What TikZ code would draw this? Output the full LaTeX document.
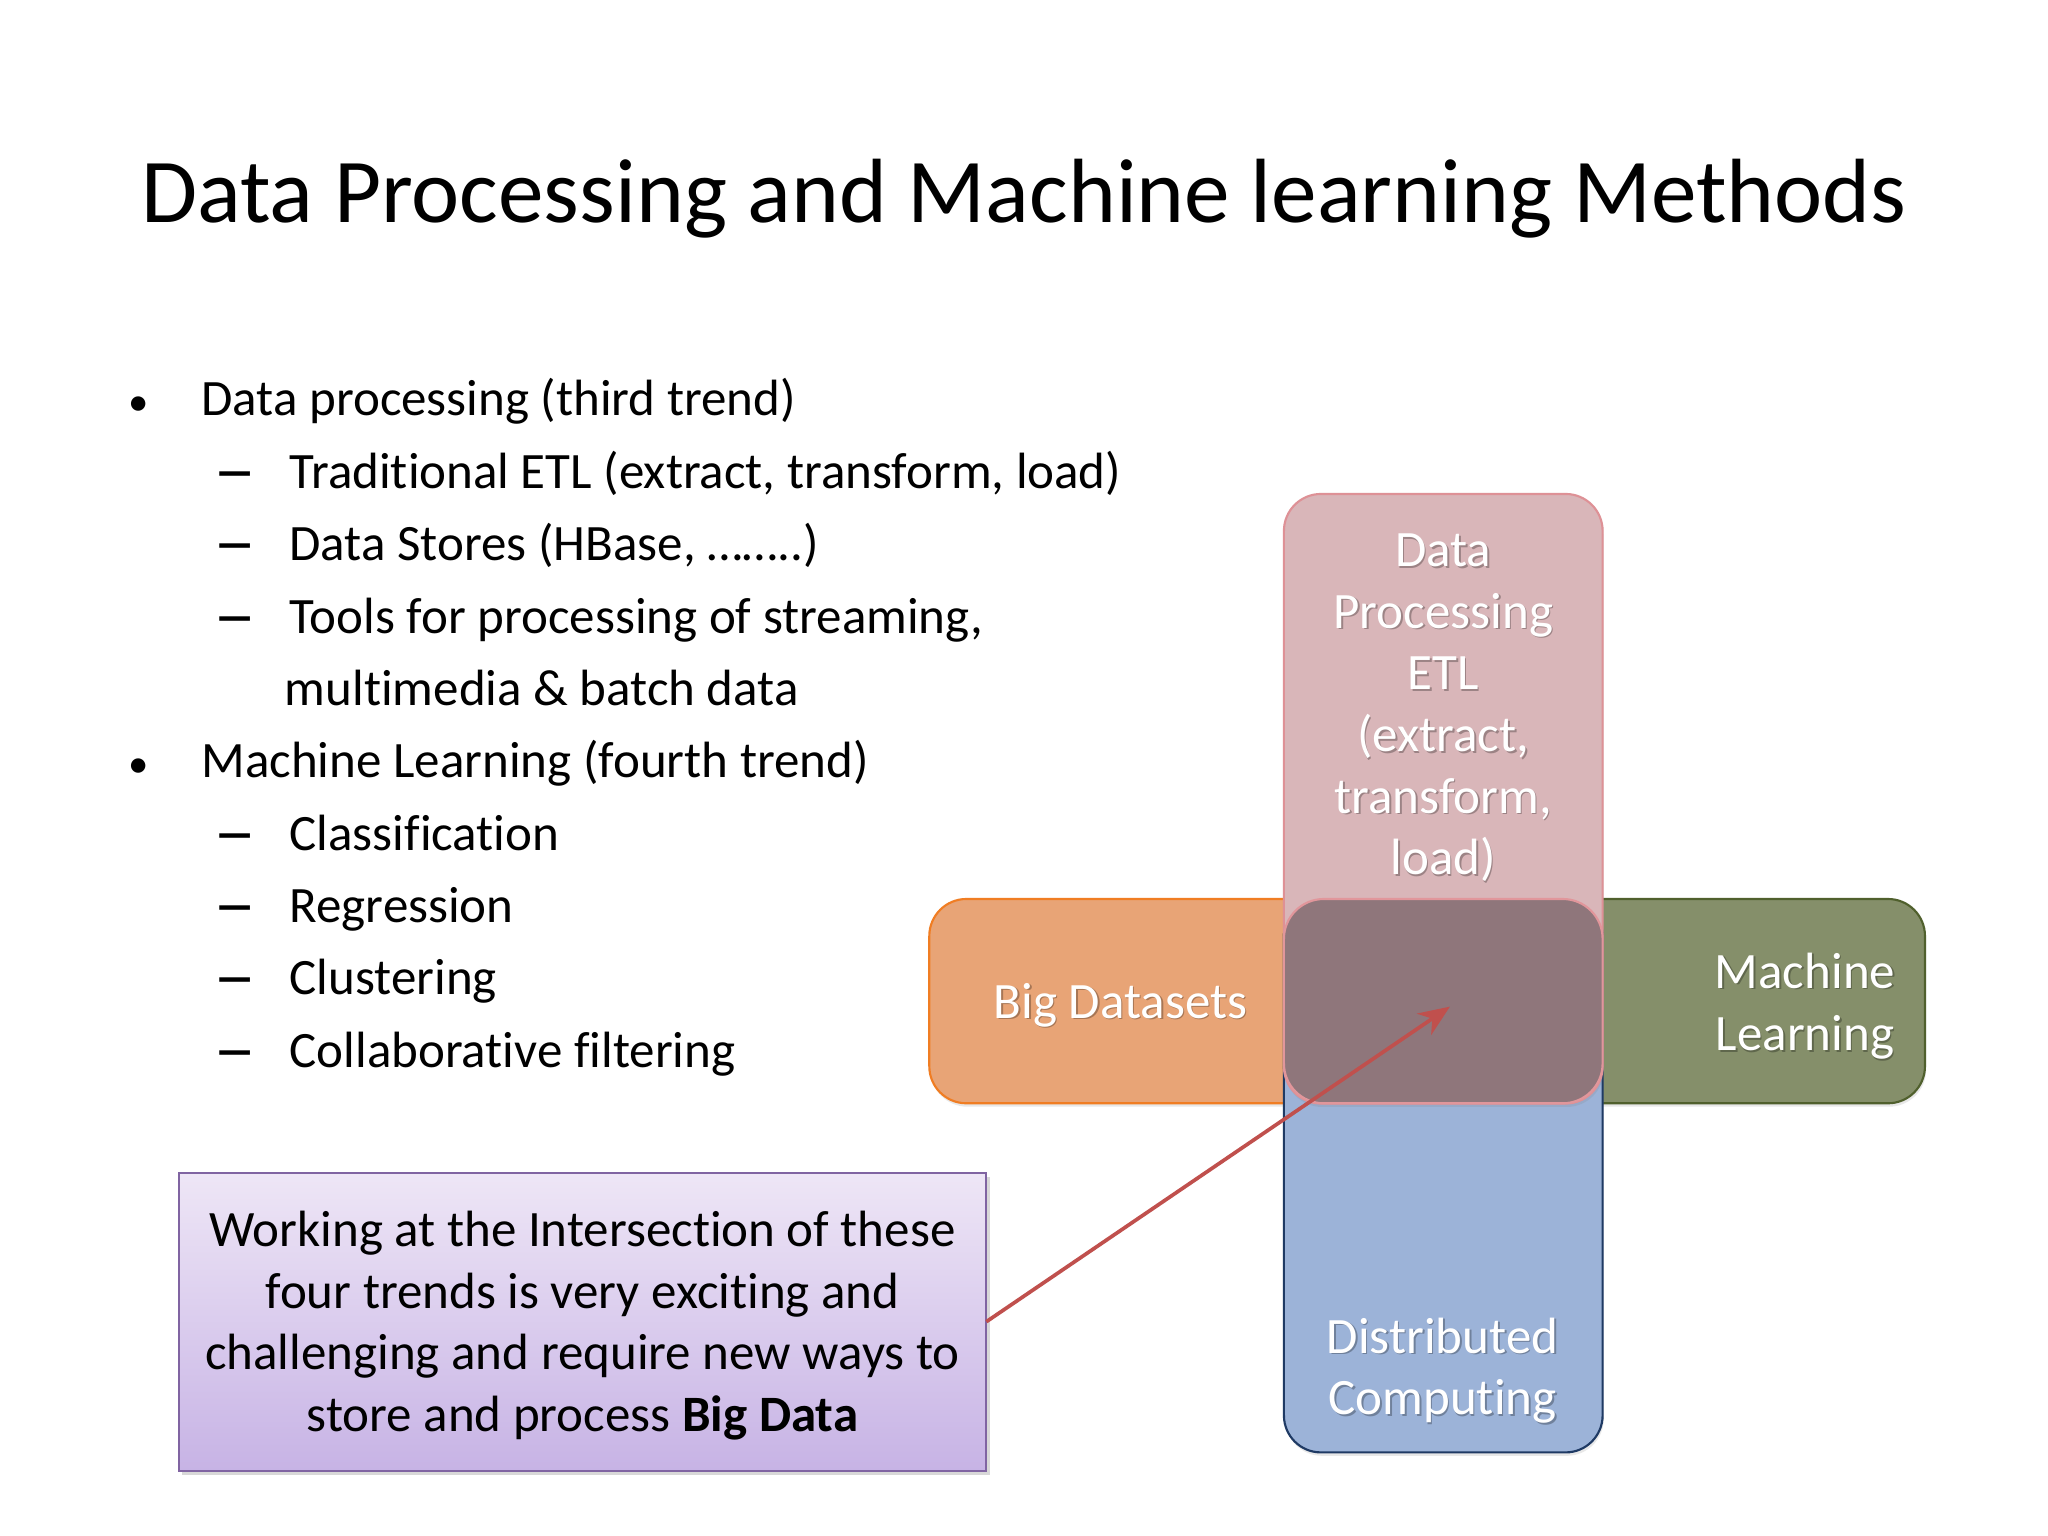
\documentclass[tikz,border=0pt]{standalone}
\usepackage{fontspec}
\usepackage{graphicx}
\setmainfont{Carlito}[Ligatures={NoCommon}]
\usetikzlibrary{arrows.meta,shadows}
\newlength\U \setlength\U{0.45918bp}
\definecolor{orF}{RGB}{232,164,118}
\definecolor{orD}{RGB}{240,125,35}
\definecolor{grF}{RGB}{133,143,106}
\definecolor{grD}{RGB}{80,96,45}
\definecolor{blF}{RGB}{156,179,216}
\definecolor{blD}{RGB}{31,58,100}
\definecolor{pkF}{RGB}{217,182,185}
\definecolor{pkD}{RGB}{222,145,150}
\definecolor{ceF}{RGB}{143,118,123}
\definecolor{ceD}{RGB}{225,150,155}
\definecolor{nbT}{RGB}{238,230,246}
\definecolor{nbB}{RGB}{199,179,229}
\definecolor{nbD}{RGB}{128,100,162}
\definecolor{arR}{RGB}{192,80,77}
\newcommand\wtext[4]{%
  \node[wtxtsh] (#1s) at ({#2+1.2},{#3+1.2}) {#4};
  \node[wtxt] (#1) at (#2,#3) {#4};}
\newcommand\bigdash{\scalebox{1.7}[1]{\textbf{–}}}
\newcommand\smallbul{\scalebox{0.8}{•}}
\begin{document}
\begin{tikzpicture}[x=0.45918bp,y=-0.45918bp,
  title/.style={anchor=base,inner sep=0pt,font=\fontsize{32.2}{40}\selectfont},
  body/.style={anchor=base west,inner sep=0pt,font=\fontsize{18}{21.7}\selectfont},
  bulletmark/.style={anchor=base,inner sep=0pt,font=\fontsize{18}{21.7}\selectfont},
  ntext/.style={anchor=base,inner sep=0pt,font=\fontsize{18}{21.7}\selectfont},
  wtxt/.style={anchor=base,inner sep=0pt,text=white,font=\fontsize{18}{21.7}\selectfont},
  wtxtsh/.style={anchor=base,inner sep=0pt,text=black,opacity=0.28,font=\fontsize{18}{21.7}\selectfont},
  boxbase/.style={rectangle,anchor=north west,inner sep=0pt,outer sep=0pt,line width=0.75bp,rounded corners=13bp,
    drop shadow={shadow xshift=0.4bp,shadow yshift=-1.2bp,opacity=0.18}},
  boxo/.style={boxbase,fill=orF,draw=orD},
  boxg/.style={boxbase,fill=grF,draw=grD},
  boxb/.style={boxbase,fill=blF,draw=blD},
  boxp/.style={boxbase,fill=pkF,draw=pkD},
  boxc/.style={rectangle,anchor=north west,inner sep=0pt,outer sep=0pt,line width=0.75bp,rounded corners=14bp,fill=ceF,draw=ceD},
  notebox/.style={rectangle,anchor=north west,inner sep=0pt,outer sep=0pt,line width=0.75bp,
    top color=nbT,bottom color=nbB,draw=nbD,
    drop shadow={shadow xshift=1.2bp,shadow yshift=-1.4bp,opacity=0.3}},
  arrowln/.style={draw=arR,line width=1.3bp,-{Stealth[length=11bp,width=9bp,inset=3.5bp]}}
]
\useasboundingbox[fill=white] (0,0) rectangle (1568,1176);

% title
\node[title] (ttl) at (784,170.5) {Data Processing and Machine learning Methods};

% bullets
\node[bulletmark] (b1) at (105.9,318.5) {\smallbul};
\node[body] (t1) at (153.9,318.5) {Data processing (third trend)};
\node[bulletmark] (d2) at (180,373.9) {\bigdash};
\node[body] (t2) at (221.3,373.9) {Traditional ETL (extract, transform, load)};
\node[bulletmark] (d3) at (180,429.3) {\bigdash};
\node[body] (t3) at (221.3,429.3) {Data Stores (HBase, ……..)};
\node[bulletmark] (d4) at (180,484.7) {\bigdash};
\node[body] (t4) at (221.3,484.7) {Tools for processing of streaming,};
\node[body] (t5) at (217.7,540.1) {multimedia \& batch data};
\node[bulletmark] (b6) at (105.9,595.5) {\smallbul};
\node[body] (t6) at (153.9,595.5) {Machine Learning (fourth trend)};
\node[bulletmark] (d7) at (180,650.9) {\bigdash};
\node[body] (t7) at (221.3,650.9) {Classification};
\node[bulletmark] (d8) at (180,706.3) {\bigdash};
\node[body] (t8) at (221.3,706.3) {Regression};
\node[bulletmark] (d9) at (180,761.7) {\bigdash};
\node[body] (t9) at (221.3,761.7) {Clustering};
\node[bulletmark] (d10) at (180,817.1) {\bigdash};
\node[body] (t10) at (221.3,817.1) {Collaborative filtering};

% cross of boxes
\node[boxo,minimum width=515.5\U,minimum height=156.4\U] (bigd) at (711.5,688.3) {};
\node[boxg,minimum width=490.8\U,minimum height=156.4\U] (mlbox) at (983,688.3) {};
\node[boxb,minimum width=244\U,minimum height=423.7\U] (dcbox) at (983,688.3) {};
\node[boxp,minimum width=244\U,minimum height=466.7\U] (dpbox) at (983,378.2) {};
\node[boxc,minimum width=244\U,minimum height=156.4\U] (cbox) at (983,688.3) {};

% box texts
\wtext{p1}{1105}{433.8}{Data}
\wtext{p2}{1105}{481}{Processing}
\wtext{p3}{1105}{528.2}{ETL}
\wtext{p4}{1105}{575.4}{(extract,}
\wtext{p5}{1105}{622.6}{transform,}
\wtext{p6}{1105}{669.8}{load)}
\wtext{bd}{858}{779.7}{Big Datasets}
\wtext{ml1}{1382}{756.7}{Machine}
\wtext{ml2}{1382}{804.4}{Learning}
\wtext{dc1}{1104.5}{1036.1}{Distributed}
\wtext{dc2}{1104.5}{1083.3}{Computing}

% note box
\node[notebox,minimum width=618.4\U,minimum height=228.2\U] (note) at (136.8,897.8) {};
\node[ntext] (n1) at (446,954.5) {Working at the Intersection of these};
\node[ntext] (n2) at (446,1001.7) {four trends is very exciting and};
\node[ntext] (n3) at (446,1048.9) {challenging and require new ways to};
\node[ntext] (n4) at (446,1096.1) {store and process \textbf{Big Data}};

% arrow
\coordinate (tip) at (1110.1,770.7);
\draw[arrowln] (note.east) -- (tip);
\end{tikzpicture}
\end{document}
